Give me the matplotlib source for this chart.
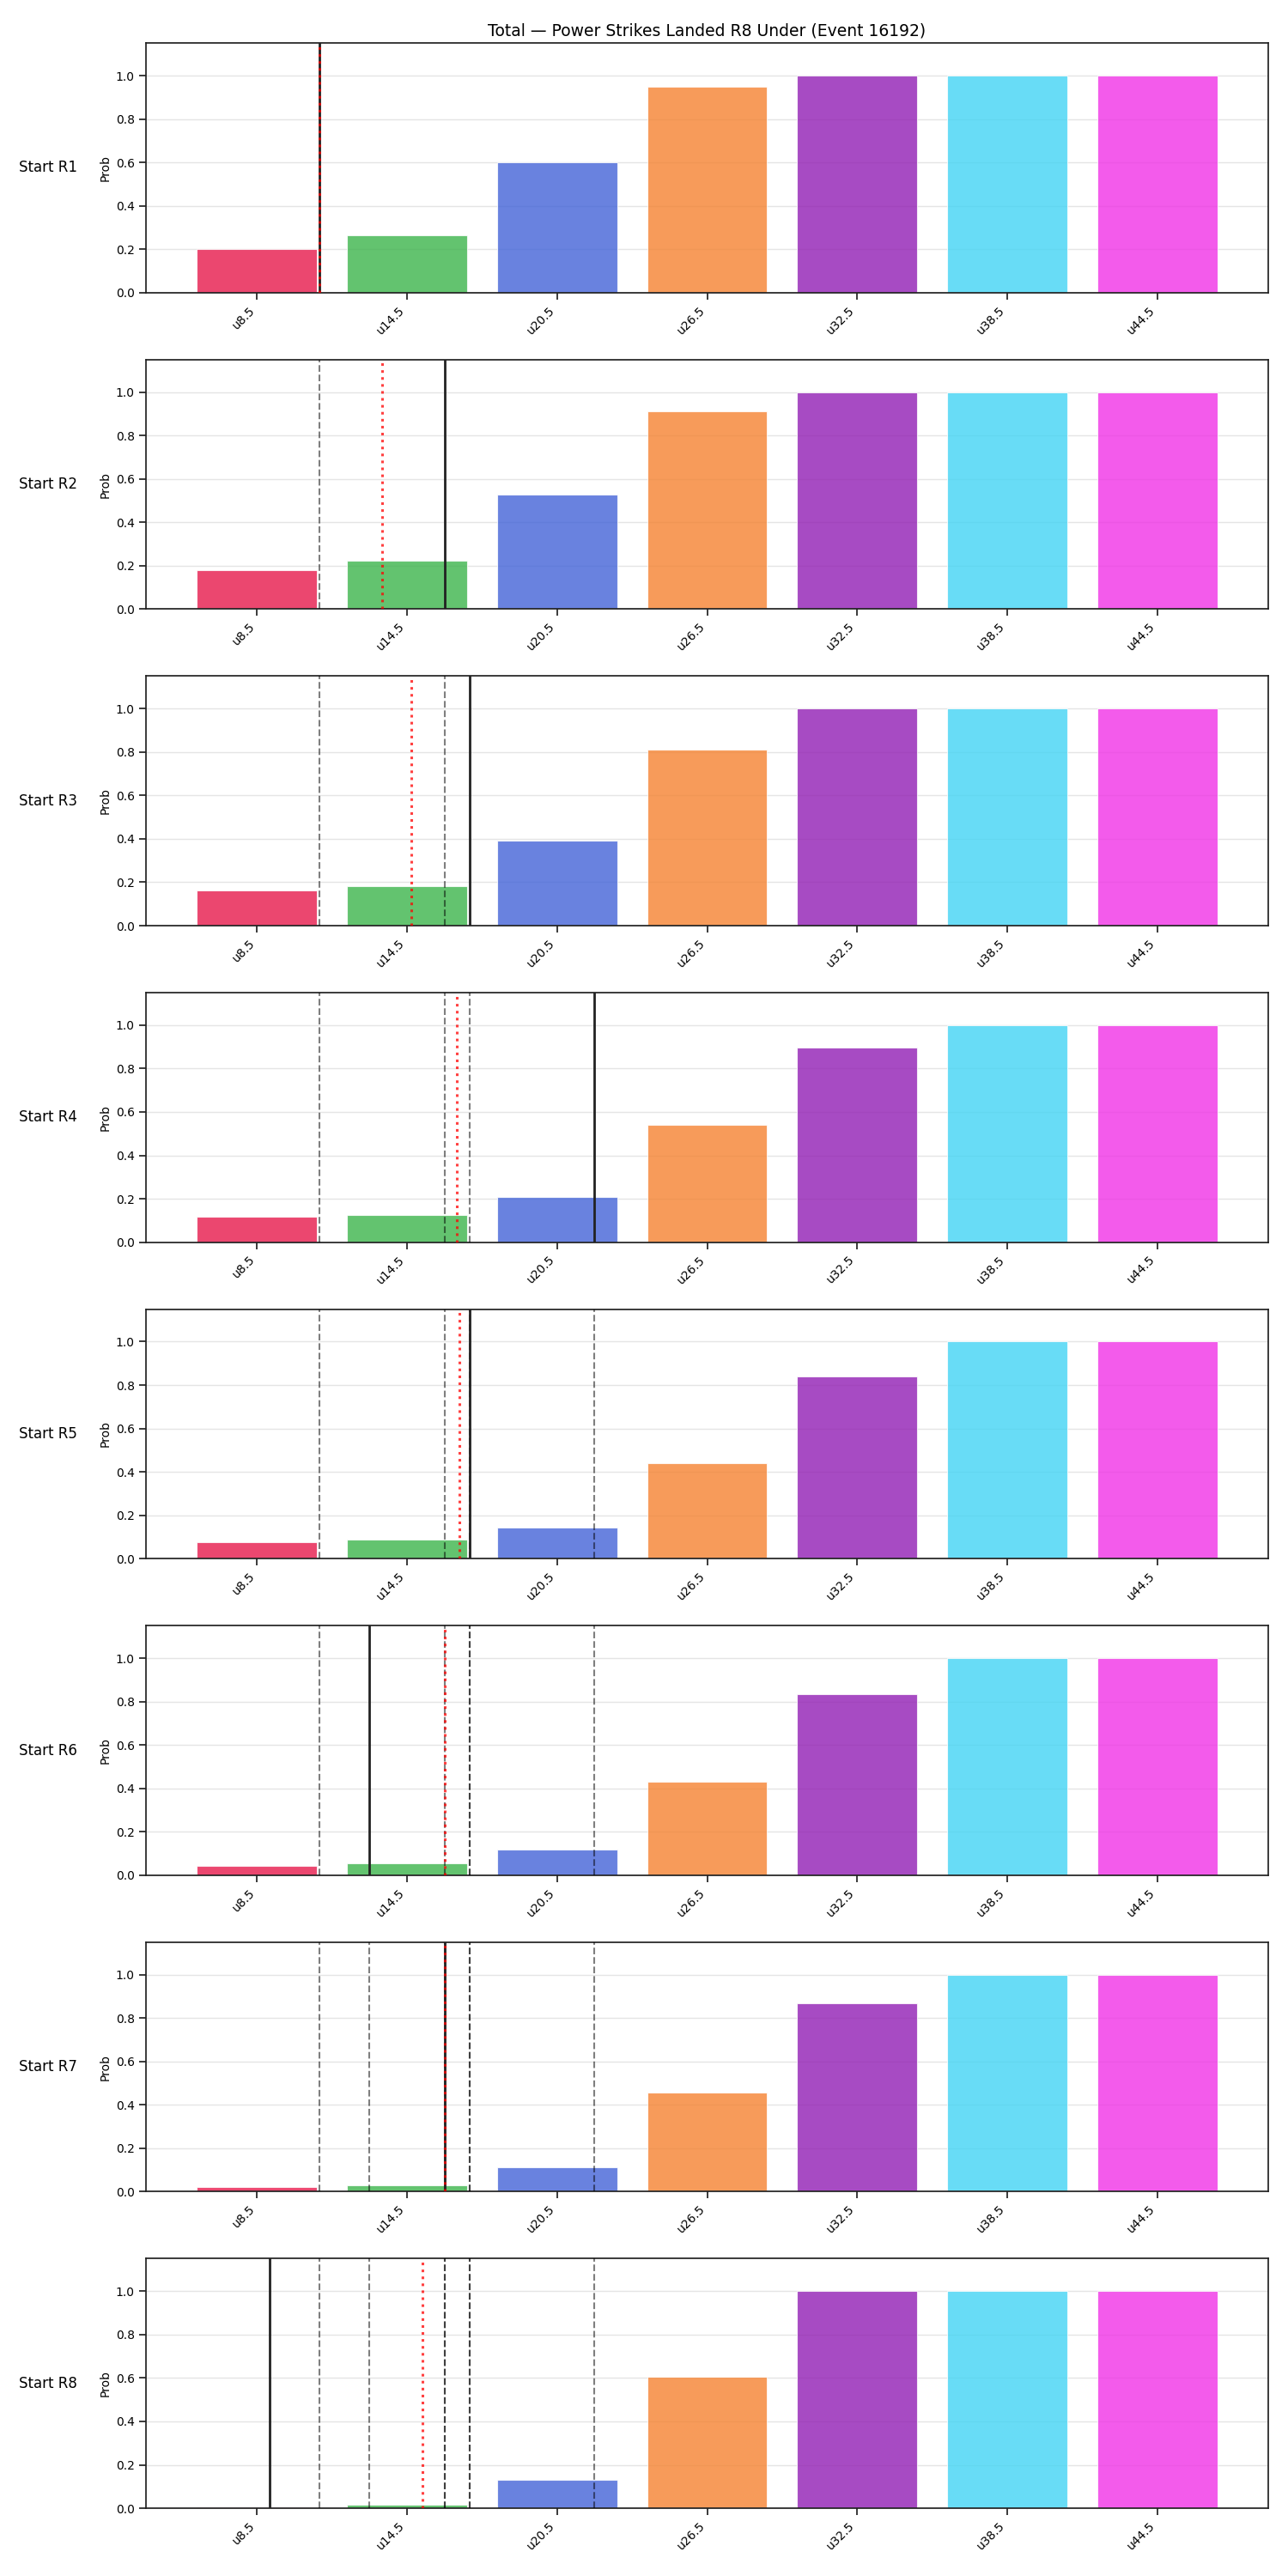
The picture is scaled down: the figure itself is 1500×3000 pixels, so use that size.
import numpy as np
import matplotlib
matplotlib.use("Agg")
import matplotlib.pyplot as plt

# under lines shown as bars, with thresholds used to place the vertical markers
categories = ["u8.5", "u14.5", "u20.5", "u26.5", "u32.5", "u38.5", "u44.5"]
thresholds = [8.5, 14.5, 20.5, 26.5, 32.5, 38.5, 44.5]
colors = ["#e6194b", "#3cb44b", "#4363d8", "#f58231", "#911eb4", "#42d4f4", "#f032e6"]

rows = ["Start R1", "Start R2", "Start R3", "Start R4",
        "Start R5", "Start R6", "Start R7", "Start R8"]

probs_r1 = [0.20, 0.265, 0.60, 0.947, 1.0, 1.0, 1.0]
probs_r2 = [0.178, 0.222, 0.526, 0.91, 1.0, 1.0, 1.0]
probs_r3 = [0.161, 0.181, 0.39, 0.81, 1.0, 1.0, 1.0]
probs_r4 = [0.117, 0.124, 0.21, 0.54, 0.895, 1.0, 1.0]
probs_r5 = [0.078, 0.089, 0.145, 0.44, 0.84, 1.0, 1.0]
probs_r6 = [0.042, 0.053, 0.12, 0.43, 0.835, 1.0, 1.0]
probs_r7 = [0.022, 0.03, 0.112, 0.455, 0.87, 1.0, 1.0]
probs_r8 = [0.003, 0.017, 0.132, 0.605, 1.0, 1.0, 1.0]
probs = [probs_r1, probs_r2, probs_r3, probs_r4, probs_r5, probs_r6, probs_r7, probs_r8]

# line at each start round (black), and running average (red dotted)
start_lines = [11, 16, 17, 22, 17, 13, 16, 9]
avg_lines = [11, 13.5, 14.667, 16.5, 16.6, 16.0, 16.0, 15.125]

title = "Total \u2014 Power Strikes Landed R8 Under (Event 16192)"


def to_pos(v):
    # map a strike count onto the category axis
    return np.interp(v, thresholds, np.arange(len(thresholds)))


def main():
    fig, axes = plt.subplots(len(rows), 1, figsize=(15, 30), dpi=100)
    fig.subplots_adjust(left=0.1133, right=0.9847, top=0.9833, bottom=0.0263, hspace=0.268)
    x = np.arange(len(categories))

    for i, ax in enumerate(axes):
        ax.bar(x, probs[i], width=0.8, color=colors, alpha=0.8,
               edgecolor="white", linewidth=0.8, zorder=2)
        for prev in start_lines[:i]:
            ax.axvline(to_pos(prev), color="black", alpha=0.5, linestyle="--",
                       linewidth=1.5, zorder=3)
        ax.axvline(to_pos(start_lines[i]), color="#222222", linewidth=2.0, zorder=4)
        ax.axvline(to_pos(avg_lines[i]), color="red", alpha=0.75, linestyle=":",
                   linewidth=2.2, zorder=5)

        ax.set_ylim(0, 1.15)
        ax.set_xticks(x)
        ax.set_xticklabels(categories, rotation=45, ha="right", fontsize=10)
        ax.tick_params(axis="y", labelsize=10)
        ax.tick_params(length=6, width=1.25, color="#222222")
        ax.set_ylabel("Prob", fontsize=10)
        ax.yaxis.grid(True, color="#e5e5e5", linewidth=1.0, zorder=0)
        ax.set_axisbelow(True)
        for sp in ax.spines.values():
            sp.set_color("#222222")
            sp.set_linewidth(1.25)
        ax.text(-0.061, 0.5, rows[i], transform=ax.transAxes, ha="right",
                va="center", fontsize=12)

    axes[0].set_title(title, fontsize=13.5)
    fig.savefig("out.png")


if __name__ == "__main__":
    main()
